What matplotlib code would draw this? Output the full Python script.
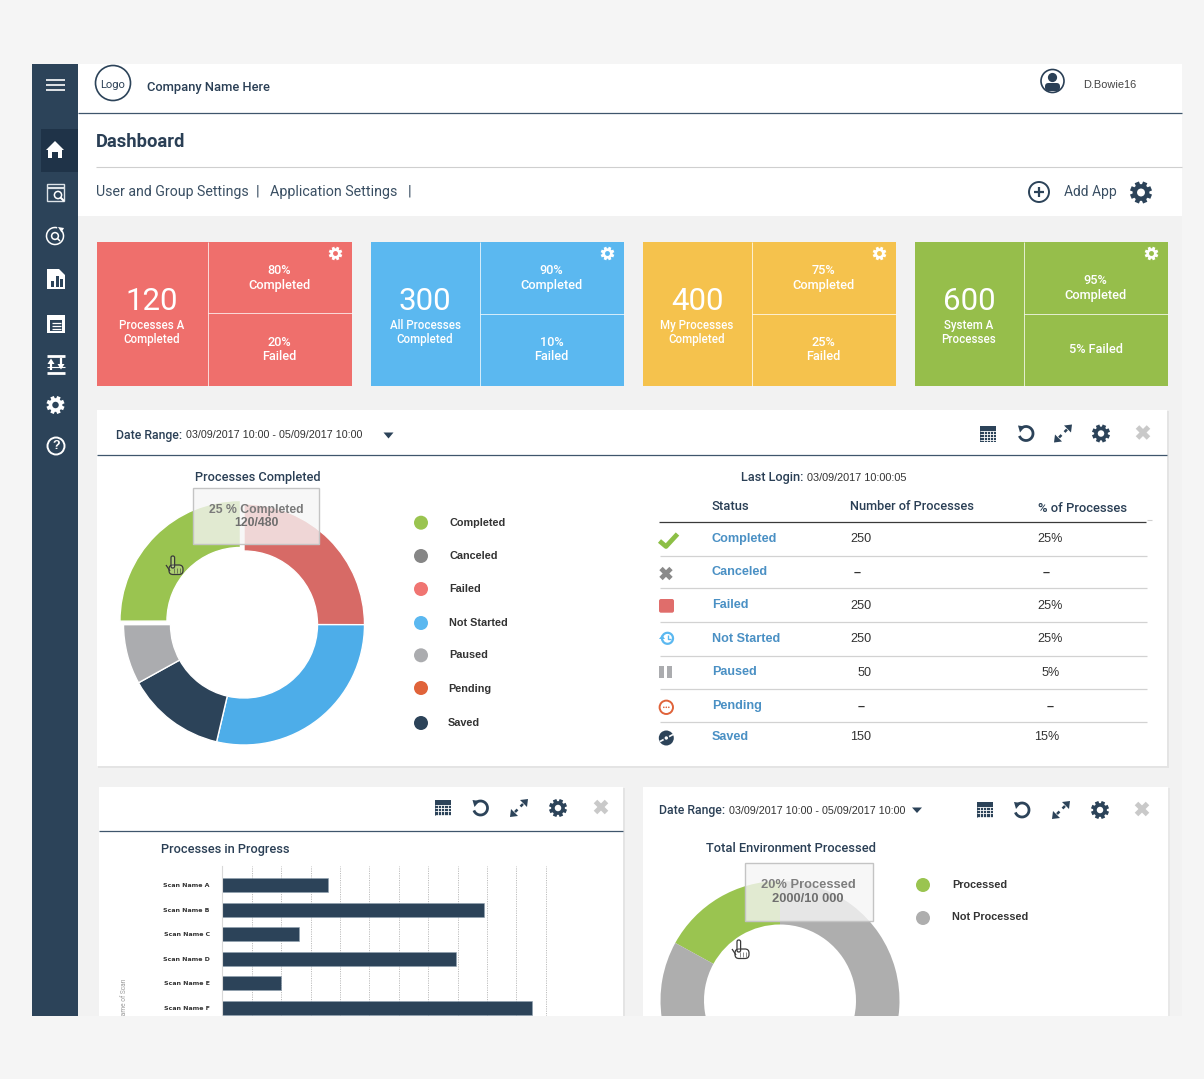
import numpy as np
import matplotlib
matplotlib.use("Agg")
import matplotlib.pyplot as plt
from matplotlib.patches import Rectangle, Circle, FancyBboxPatch, Polygon, Arc

W, H = 1204, 1079
NAVY = "#2C4359"
HEAD = "#2A3F55"
UI = "Roboto"
ARIAL = "Liberation Sans"

# tiles
card_totals = ["120", "300", "400", "600"]
card_labels = ["Processes A\nCompleted", "All Processes\nCompleted", "My Processes\nCompleted", "System A\nProcesses"]
card_top = ["80%\nCompleted", "90%\nCompleted", "75%\nCompleted", "95%\nCompleted"]
card_bottom = ["20%\nFailed", "10%\nFailed", "25%\nFailed", "5% Failed"]
card_colors = ["#EF6F6C", "#5BB8F0", "#F5C24D", "#96BE4B"]

# first donut, clockwise from 12 o'clock
pie_labels = ["Failed", "Not Started", "Saved", "Paused", "Completed"]
pie_values = [25, 28.6, 13.3, 8, 25]
pie_colors = ["#D76A66", "#4DADE9", "#2C4359", "#ABACAF", "#9AC450"]

legend_labels = ["Completed", "Canceled", "Failed", "Not Started", "Paused", "Pending", "Saved"]
legend_colors = ["#9AC450", "#868686", "#F07572", "#5BB8F0", "#ABACAF", "#E0633A", "#2C4359"]

# table
table_status = ["Completed", "Canceled", "Failed", "Not Started", "Paused", "Pending", "Saved"]
table_number = ["250", "–", "250", "250", "50", "–", "150"]
table_percent = ["25%", "–", "25%", "25%", "5%", "–", "15%"]

# bars
scan_names = ["Scan Name A", "Scan Name B", "Scan Name C", "Scan Name D", "Scan Name E", "Scan Name F"]
scan_values = [3.58, 8.9, 2.62, 7.95, 2.0, 10.52]
scan_ticks = [1, 2, 3, 4, 5, 6, 7, 8, 9, 10, 11]

# second donut
env_labels = ["Processed", "Not Processed"]
env_values = [17, 83]
env_colors = ["#9AC450", "#AEAEAE"]

fig = plt.figure(figsize=(W / 100, H / 100), dpi=100, facecolor="#F5F5F5")


def px_axes(x0, y0, x1, y1, z=1):
    a = fig.add_axes([x0 / W, 1 - y1 / H, (x1 - x0) / W, (y1 - y0) / H], zorder=z)
    return a


ax = px_axes(0, 0, W, H, 0)
ax.set_xlim(0, W)
ax.set_ylim(H, 0)
ax.axis("off")

top = px_axes(0, 0, W, H, 5)
top.set_xlim(0, W)
top.set_ylim(H, 0)
top.axis("off")
top.patch.set_alpha(0)


def a_or(a):
    return ax if a is None else a


def txt(x, y, s, size=8, color="#333333", weight="normal", font=ARIAL, ha="left", a=None, **kw):
    return a_or(a).text(x, y + 1, s, fontsize=size, color=color, fontweight=weight, family=font,
                        ha=ha, va="center", **kw)


def rect(x0, y0, x1, y1, color, a=None, **kw):
    a_or(a).add_patch(Rectangle((x0, y0), x1 - x0, y1 - y0, facecolor=color, edgecolor="none", **kw))


def line(xs, ys, color=NAVY, lw=1.0, a=None, **kw):
    a_or(a).plot(xs, ys, color=color, lw=lw, solid_capstyle=kw.pop("cap", "butt"), **kw)


def gear(x, y, r, color=NAVY, hole="white"):
    for t in np.arange(0, np.pi, np.pi / 4) + np.pi / 8:
        line([x - r * np.cos(t), x + r * np.cos(t)], [y - r * np.sin(t), y + r * np.sin(t)], color, lw=r * 0.3)
    ax.add_patch(Circle((x, y), r * 0.76, color=color, lw=0, zorder=3))
    ax.add_patch(Circle((x, y), r * 0.36, color=hole, lw=0, zorder=4))


def calendar(x, y):
    rect(x - 8, y - 8, x + 8, y + 8, NAVY)
    for gx in np.arange(x - 4.5, x + 8, 3.2):
        line([gx, gx], [y - 3, y + 8], "white", 0.6)
    for gy in np.arange(y - 3, y + 8, 3.2):
        line([x - 8, x + 8], [gy, gy], "white", 0.6)


def undo(x, y, color=NAVY):
    ax.add_patch(Arc((x, y), 14, 14, theta1=-130, theta2=160, color=color, lw=2.0))
    ax.add_patch(Polygon([[x - 8, y - 8], [x - 1, y - 7], [x - 6, y - 1]], color=color, lw=0))


def expand(x, y):
    line([x - 4, x - 1.5], [y + 4, y + 1.5], NAVY, 1.8)
    line([x + 1.5, x + 4], [y - 1.5, y - 4], NAVY, 1.8)
    ax.add_patch(Polygon([[x + 9, y - 9], [x + 1, y - 8], [x + 8, y - 1]], color=NAVY, lw=0))
    ax.add_patch(Polygon([[x - 9, y + 9], [x - 1, y + 8], [x - 8, y + 1]], color=NAVY, lw=0))


def cross(x, y, r=5.5, color="#C9C9C9", lw=3.6):
    line([x - r, x + r], [y - r, y + r], color, lw)
    line([x - r, x + r], [y + r, y - r], color, lw)


def toolbar(xs, y):
    calendar(xs[0], y)
    undo(xs[1], y)
    expand(xs[2], y)
    gear(xs[3], y, 9)
    cross(xs[4], y - 1)


def hand(x, y, color="#3A3A3A"):
    top.add_patch(FancyBboxPatch((x - 6, y), 14, 9.5, boxstyle="round,pad=0,rounding_size=4",
                                 facecolor=(1, 1, 1, 0.2), edgecolor=color, lw=0.9))
    top.add_patch(FancyBboxPatch((x - 4, y - 9), 3.6, 12, boxstyle="round,pad=0,rounding_size=1.7",
                                 facecolor=(1, 1, 1, 0.2), edgecolor=color, lw=0.9))
    line([x - 9, x - 5], [y, y + 6], color, 0.9, a=top)
    for dx in [-1, 2, 5]:
        line([x + dx, x + dx], [y + 3, y + 8], color, 0.4, a=top)


# page blocks
rect(32, 64, 78, 1016, NAVY)
rect(78, 64, 1182, 216, "white")
rect(78, 216, 1182, 1016, "#F2F2F2")
rect(41, 129, 78, 172, "#1F3348")

# sidebar
for hy in [80, 85, 90]:
    line([46, 65], [hy, hy], "white", 1.2)
ax.add_patch(Polygon([[46, 150], [55, 141], [64, 150], [62, 150], [62, 158], [58, 158], [58, 152],
                      [52, 152], [52, 158], [48, 158], [48, 150]], color="white", lw=0))
ax.add_patch(Rectangle((46.5, 183.5), 17.5, 17.5, fill=False, edgecolor="#DDE3E8", lw=1, zorder=3))
line([46.5, 64], [187.5, 187.5], "#DDE3E8", 1.6, zorder=3)
ax.add_patch(Circle((58, 195), 3.6, facecolor=NAVY, edgecolor="white", lw=1.1, zorder=4))
line([60.5, 64], [197.5, 201], "white", 1.5, zorder=5)
ax.add_patch(Arc((55, 236), 17, 17, theta1=-35, theta2=285, color="white", lw=1.1))
ax.add_patch(Polygon([[58, 227], [64, 228], [61.5, 232.5]], color="white", lw=0))
ax.add_patch(Circle((55, 236), 3.4, fill=False, edgecolor="white", lw=1.1))
line([57.5, 60], [238.5, 241], "white", 1.1)
ax.add_patch(Polygon([[47, 269], [59, 269], [65, 275], [65, 289], [47, 289]], color="white", lw=0))
for bx, bh in zip([51, 55.5, 60], [6, 11, 8]):
    rect(bx, 287 - bh, bx + 3, 287, NAVY, zorder=3)
rect(47, 315, 65, 333, "white")
rect(50, 320, 62, 331, NAVY, zorder=2)
for ly in [323, 326, 329]:
    line([51.5, 60.5], [ly, ly], "white", 0.9, zorder=3)
line([47, 65], [355.5, 355.5], "white", 2)
line([47, 65], [372.5, 372.5], "white", 2)
line([47, 65], [366.5, 366.5], "white", 0.8)
line([51, 51], [362, 370], "white", 1.6)
ax.add_patch(Polygon([[47.5, 364], [54.5, 364], [51, 358.5]], color="white", lw=0))
line([61, 61], [358, 366], "white", 1.6)
ax.add_patch(Polygon([[57.5, 364], [64.5, 364], [61, 369.5]], color="white", lw=0))
gear(55.5, 405, 9, "white", NAVY)
ax.add_patch(Circle((56, 446), 8.5, fill=False, edgecolor="white", lw=1.4))
txt(56, 445, "?", 9, "white", "bold", ARIAL, ha="center")

# top bar
ax.add_patch(Circle((113, 83), 17.5, facecolor="white", edgecolor=NAVY, lw=1.2))
txt(113, 83.5, "Logo", 8, HEAD, ha="center", font=UI)
txt(147, 86, "Company Name Here", 9.3, HEAD, "medium", UI)
ax.add_patch(Circle((1052.5, 81), 11.5, facecolor="white", edgecolor=HEAD, lw=1.2))
ax.add_patch(Circle((1052.5, 77.5), 4.6, color=HEAD, lw=0))
ax.add_patch(FancyBboxPatch((1045, 83), 15, 8, boxstyle="round,pad=0,rounding_size=3.5", color=HEAD, lw=0))
txt(1083, 83.5, "D.Bowie16", 7.9, "#444444")
line([78, 1182], [112.5, 112.5], "#3F566C", 0.9)
txt(96, 141, "Dashboard", 13.2, HEAD, "bold", UI)
line([96, 1182], [166.5, 166.5], "#CFCFCF", 0.8)
txt(96, 191, "User and Group Settings", 10.2, "#3A4F63", font=UI)
txt(256, 190.5, "|", 10.5, "#3A4F63", font=UI)
txt(270, 191, "Application Settings", 10.3, "#3A4F63", font=UI)
txt(408, 190.5, "|", 10.5, "#3A4F63", font=UI)
ax.add_patch(Circle((1039, 192), 10, facecolor="white", edgecolor=NAVY, lw=1.4))
line([1034, 1044], [192, 192], NAVY, 1.6)
line([1039, 1039], [187, 197], NAVY, 1.6)
txt(1064, 191, "Add App", 10, "#3A4F63", font=UI)
gear(1141, 192.5, 11)

# tiles
card_x0 = [97, 371, 643, 915]
card_x1 = [352, 624, 896, 1168]
card_div = [208, 480, 752, 1024]
card_mid = [313, 314, 314, 314]
for i in range(4):
    x0, x1, d = card_x0[i], card_x1[i], card_div[i]
    rect(x0, 242, x1, 386, card_colors[i])
    line([d, d], [242, 386], "#FFFFFF", 0.7, alpha=0.75)
    line([d, x1], [card_mid[i], card_mid[i]], "#FFFFFF", 0.7, alpha=0.75)
    cx = (x0 + d) / 2 - 0.5
    rx = (d + x1) / 2 - 0.5
    txt(cx, 300.5, card_totals[i], 22.5, "white", "normal", UI, ha="center")
    txt(cx, 331.5, card_labels[i], 8.3, "white", "medium", UI, ha="center", linespacing=1.12)
    top_y = 286.5 if i == 3 else 276.5
    txt(rx, top_y, card_top[i], 9.2, "white", font=UI, ha="center", weight="medium", linespacing=1.2)
    txt(rx, 348.5, card_bottom[i], 9.2, "white", font=UI, ha="center", weight="medium", linespacing=1.2)
    gear(x1 - 16.5, 253.5, 6.8, "white", card_colors[i])

# main panel
rect(98, 411, 1169, 768, "#E4E4E4")
rect(97, 410, 1167, 766, "white")
line([97, 1167], [454.5, 454.5], "#3F566C", 0.9)
txt(116, 434.5, "Date Range:", 8.8, HEAD, "medium", UI)
txt(186, 434.5, "03/09/2017 10:00 - 05/09/2017 10:00", 7.75, "#333333")
ax.add_patch(Polygon([[383.5, 432.5], [393.5, 432.5], [388.5, 438.5]], color=NAVY, lw=0))
toolbar([988, 1026, 1063, 1101, 1143], 433.5)
txt(258, 476, "Processes Completed", 9.2, HEAD, "medium", UI, ha="center")

pie_ax = px_axes(244 - 135, 624.5 - 135, 244 + 135, 624.5 + 135)
pie_ax.pie(pie_values, colors=pie_colors, startangle=90, counterclock=False, radius=120.5,
           explode=[0, 0, 0, 0, 5], wedgeprops=dict(width=47, edgecolor="white", linewidth=1.0))
pie_ax.set_xlim(-135, 135)
pie_ax.set_ylim(-135, 135)
pie_ax.patch.set_alpha(0)

top.add_patch(Rectangle((192.7, 487.5), 126, 56, facecolor=(0.965, 0.965, 0.965, 0.78), edgecolor="#C4C4C4", lw=1))
txt(256, 509, "25 % Completed", 8.8, "#7A7A7A", "bold", ha="center", a=top)
txt(256, 522, "120/480", 8.8, "#6E6E6E", "bold", ha="center", a=top)
hand(175, 565)

legend_y = [522.7, 556, 589, 623, 655.3, 688, 723]
legend_ty = [521.5, 555, 588, 622, 654.5, 688, 722]
legend_tx = [449, 449, 449, 449, 449, 448, 448]
for i, name in enumerate(legend_labels):
    ax.add_patch(Circle((421, legend_y[i]), 7, color=legend_colors[i], lw=0))
    txt(legend_tx[i], legend_ty[i], name, 7.8, "#333333", "bold")

# table
txt(741, 477, "Last Login:", 9.2, HEAD, "medium", UI)
txt(807, 477, "03/09/2017 10:00:05", 7.8)
txt(712, 506, "Status", 9.4, HEAD, "medium", UI)
txt(850, 506, "Number of Processes", 9.2, HEAD, "medium", UI)
txt(1038, 507, "% of Processes", 9.4, HEAD, "medium", UI)
line([659, 1146], [522.3, 522.3], "#3A3A3A", 0.9)
line([1147, 1152], [520, 520], "#D0D0D0", 0.8)

row_y = [538, 571, 604.2, 638, 671, 705, 735.5]
num_x = [850, 854, 850, 850, 858, 858, 850]
pct_x = [1037, 1043, 1037, 1037, 1042, 1047, 1034]
for i, name in enumerate(table_status):
    txt(712, row_y[i], name, 9.1, "#4A90C4", "bold")
    nw = "bold" if table_number[i] == "–" else "normal"
    txt(num_x[i], row_y[i] + 0.5, table_number[i], 9.1, "#333333", nw)
    txt(pct_x[i], row_y[i] + 0.5, table_percent[i], 9.1, "#333333", nw)
for ly in [556.3, 588.3, 622.3, 656, 689, 722.3]:
    line([660, 1147], [ly, ly], "#D2D2D2", 0.9)

line([659.5, 666, 677.5], [541, 546.5, 534], "#8CBF45", 3.4)
cross(666, 573.5, 5, "#8A8A8A", 3.4)
ax.add_patch(FancyBboxPatch((659, 599), 15, 13.7, boxstyle="round,pad=0,rounding_size=2", color="#E06D6B", lw=0))
ax.add_patch(Arc((667.5, 638.3), 11, 11, theta1=-210, theta2=150, color="#5BB8F0", lw=1.6))
ax.add_patch(Polygon([[659, 639], [665, 639], [662, 635]], color="#5BB8F0", lw=0))
line([668, 668, 671], [635, 639, 639], "#5BB8F0", 1.0)
rect(659, 666, 664, 677.7, "#ABACAF")
rect(666.7, 666, 671.7, 677.7, "#ABACAF")
ax.add_patch(Circle((666.3, 707.3), 6.7, facecolor="white", edgecolor="#E0633A", lw=1.4))
for dx in [-2.5, 0, 2.5]:
    ax.add_patch(Circle((666.3 + dx, 707.3), 0.8, color="#E0633A", lw=0))
ax.add_patch(Circle((666.3, 738), 7.5, color=NAVY, lw=0))
line([660, 673], [741.5, 734.5], "white", 1.2)
ax.add_patch(Circle((666.3, 738), 2.4, facecolor="white", edgecolor=NAVY, lw=1, zorder=3))

# bars panel
rect(100, 788, 625, 1016, "#E4E4E4")
rect(99, 787, 623, 1016, "white")
line([99, 623], [830.5, 830.5], "#3F566C", 0.9)
toolbar([442.5, 480.5, 519, 558, 601], 808)
txt(161, 848, "Processes in Progress", 9.2, HEAD, "medium", UI)

bar_ax = px_axes(222.4, 866, 550, 1016)
bar_y = np.arange(len(scan_names))
bar_ax.barh(bar_y, scan_values, height=0.57, color=NAVY, edgecolor="#8FA0B0", linewidth=0.4, zorder=2)
bar_ax.set_xlim(0, (550 - 222.4) / 29.4)
bar_ax.set_ylim(5.325, -0.772)
bar_ax.set_xticks(scan_ticks)
bar_ax.set_xticklabels([])
bar_ax.set_yticks(bar_y)
bar_ax.set_yticklabels(scan_names, fontsize=4.5, fontweight="bold", color="#333333", family="DejaVu Sans")
bar_ax.tick_params(axis="both", length=0)
bar_ax.tick_params(axis="y", pad=9)
bar_ax.grid(axis="x", color="#BDBDBD", lw=0.7, ls=(0, (1.2, 1.2)), zorder=1)
bar_ax.set_axisbelow(True)
for side in ["top", "right", "bottom"]:
    bar_ax.spines[side].set_visible(False)
bar_ax.spines["left"].set_color("#D9D9D9")
bar_ax.patch.set_alpha(0)
ax.text(125, 978, "Name of Scan", fontsize=4.8, color="#9A9A9A", rotation=90, ha="center", va="top", family=UI)

# environment panel
rect(644, 788, 1170, 1016, "#E8E8E8")
rect(643, 787, 1168, 1016, "white")
txt(659, 809.5, "Date Range:", 8.8, HEAD, "medium", UI)
txt(729, 809.5, "03/09/2017 10:00 - 05/09/2017 10:00", 7.75)
ax.add_patch(Polygon([[912, 807.5], [922, 807.5], [917, 813]], color=NAVY, lw=0))
toolbar([984.5, 1022, 1061, 1100, 1142], 810)
txt(791, 848, "Total Environment Processed", 9.3, HEAD, "medium", UI, ha="center")

env_ax = px_axes(780 - 125, 1000.5 - 125, 780 + 125, 1000.5 + 125)
env_ax.pie(env_values, colors=env_colors, startangle=90, counterclock=True, radius=119.5,
           wedgeprops=dict(width=43.5, edgecolor="none"))
env_ax.set_xlim(-125, 125)
env_ax.set_ylim(-125, 125)
env_ax.patch.set_alpha(0)

top.add_patch(Rectangle((744.5, 862.8), 128, 57.8, facecolor=(0.965, 0.965, 0.965, 0.78), edgecolor="#C4C4C4", lw=1))
txt(808, 883.5, "20% Processed", 9.3, "#7E7E7E", "bold", ha="center", a=top)
txt(808, 897.5, "2000/10 000", 9.3, "#6E6E6E", "bold", ha="center", a=top)
hand(741, 949)

env_dot_y = [885, 918]
env_text_y = [883.5, 916.5]
for i, name in enumerate(env_labels):
    ax.add_patch(Circle((923, env_dot_y[i]), 7, color=env_colors[i], lw=0))
    txt(952, env_text_y[i], name, 7.8, "#333333", "bold")

# the page stops at y=1016, everything below is cut off
rect(0, 1016, W, H, "#F5F5F5", a=top)

fig.savefig("out.png", dpi=100, facecolor=fig.get_facecolor())
